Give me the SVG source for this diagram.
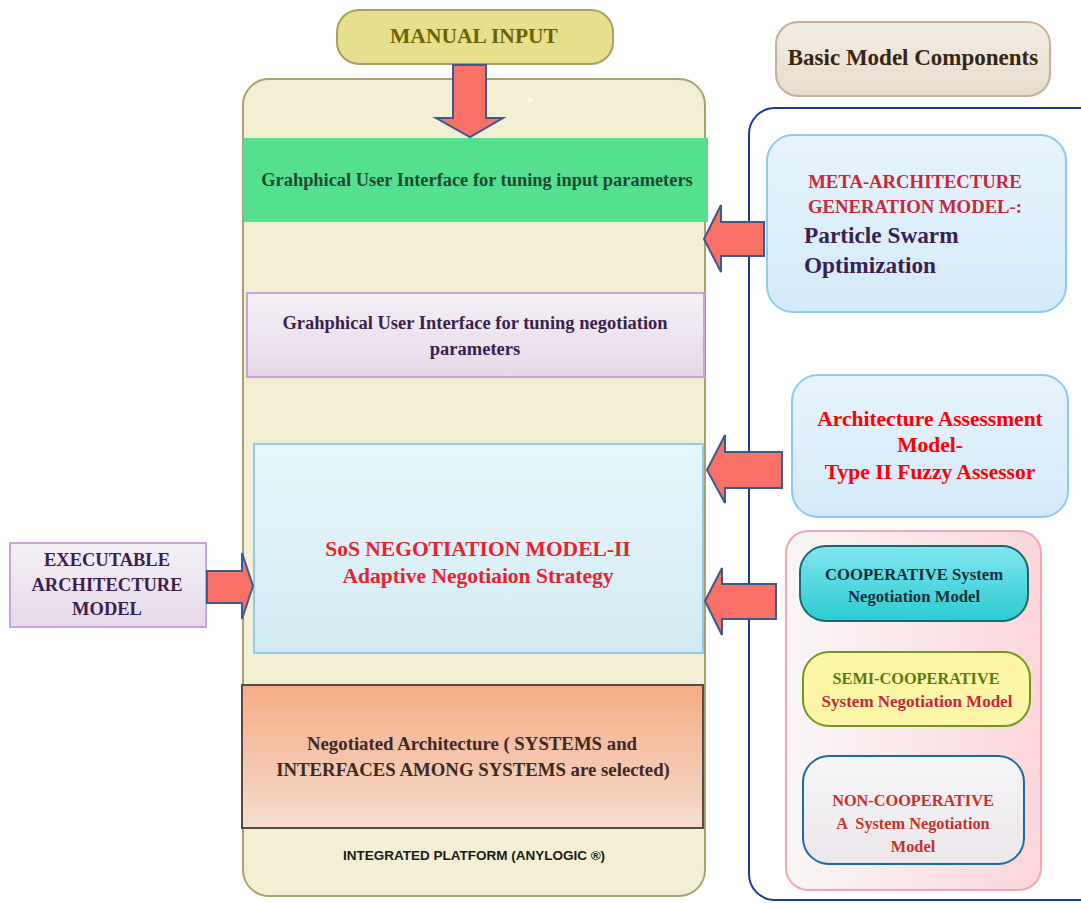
<svg xmlns="http://www.w3.org/2000/svg" width="1081" height="903" viewBox="0 0 1081 903">
<defs>
<style>
.t{font-family:"Liberation Serif","Times New Roman",serif;font-weight:bold;text-anchor:middle}
.l{text-anchor:start}
.s{font-family:"Liberation Sans",Arial,sans-serif;font-weight:bold;text-anchor:middle}
.arr{fill:#f87066;stroke:#3e5a8a;stroke-width:2;stroke-linejoin:miter}
</style>
<linearGradient id="gPurple" x1="0" y1="0" x2="0" y2="1"><stop offset="0" stop-color="#f4f0f6"/><stop offset="1" stop-color="#e6d8e8"/></linearGradient>
<linearGradient id="gBlue" x1="0" y1="0" x2="0" y2="1"><stop offset="0" stop-color="#e7f7fb"/><stop offset="1" stop-color="#d3eaf3"/></linearGradient>
<linearGradient id="gBlue2" x1="0" y1="0" x2="0" y2="1"><stop offset="0" stop-color="#e6f4fb"/><stop offset="1" stop-color="#d4eafa"/></linearGradient>
<linearGradient id="gOrange" x1="0" y1="0" x2="0" y2="1"><stop offset="0" stop-color="#f3ac86"/><stop offset="1" stop-color="#f6dccd"/></linearGradient>
<linearGradient id="gTan" x1="0" y1="0" x2="0" y2="1"><stop offset="0" stop-color="#f2ede4"/><stop offset="1" stop-color="#e7dccd"/></linearGradient>
<linearGradient id="gPink" x1="0" y1="0" x2="1" y2="0"><stop offset="0" stop-color="#faf6f7"/><stop offset="1" stop-color="#fcd6da"/></linearGradient>
<linearGradient id="gCyan" x1="0" y1="0" x2="0" y2="1"><stop offset="0" stop-color="#80e6f0"/><stop offset="1" stop-color="#2ccbcf"/></linearGradient>
<linearGradient id="gGrey" x1="0" y1="0" x2="0" y2="1"><stop offset="0" stop-color="#f6f5f7"/><stop offset="1" stop-color="#ebe6eb"/></linearGradient>
</defs>
<rect width="1081" height="903" fill="#ffffff"/>

<g id="platform">
<rect x="243" y="79" width="462" height="817" rx="26" fill="#f3efd2" stroke="#a8a070" stroke-width="2"/>
<text x="527" y="104" font-family="Liberation Sans, sans-serif" font-size="10" fill="#ffffff" font-weight="bold">&gt;</text>
<text class="s" x="474" y="860" font-size="13.5" fill="#1a1a1a">INTEGRATED PLATFORM (ANYLOGIC ®)</text>
</g>

<g id="manual-input">
<rect x="337" y="10" width="276" height="54" rx="22" fill="#e8df8e" stroke="#a89f60" stroke-width="2"/>
<text class="t" x="474" y="43" font-size="21.5" fill="#6e6200">MANUAL INPUT</text>
</g>

<g id="gui-input">
<rect x="243" y="138" width="465" height="84" fill="#54e08e"/>
<text class="t" x="477" y="186" font-size="18.4" fill="#1d4a2e">Grahphical User Interface for tuning input parameters</text>
</g>

<g id="gui-negotiation">
<rect x="247" y="293" width="457" height="84" fill="url(#gPurple)" stroke="#c9a4d8" stroke-width="2"/>
<text class="t" x="475" y="329" font-size="18.5" fill="#3d1f4d">Grahphical User Interface for tuning negotiation</text>
<text class="t" x="475" y="355" font-size="18.5" fill="#3d1f4d">parameters</text>
</g>

<g id="sos-negotiation">
<rect x="254" y="444" width="449" height="209" fill="url(#gBlue)" stroke="#8ccaf2" stroke-width="2"/>
<text class="t" x="478" y="556" font-size="21.5" fill="#e8222e">SoS NEGOTIATION MODEL-II</text>
<text class="t" x="478" y="583" font-size="21.5" fill="#e8222e">Adaptive Negotiaion Strategy</text>
</g>

<g id="negotiated-architecture">
<rect x="242" y="685" width="461" height="143" fill="url(#gOrange)" stroke="#5a4a40" stroke-width="2"/>
<text class="t" x="472" y="750" font-size="18.8" fill="#3d2a20">Negotiated Architecture ( SYSTEMS and</text>
<text class="t" x="473" y="776" font-size="18.8" fill="#3d2a20">INTERFACES AMONG SYSTEMS are selected)</text>
</g>

<g id="executable-architecture">
<rect x="10" y="543" width="196" height="84" fill="url(#gPurple)" stroke="#c9a4d8" stroke-width="2"/>
<text class="t" x="107" y="566" font-size="18.5" fill="#3d1f4d">EXECUTABLE</text>
<text class="t" x="107" y="591" font-size="18.5" fill="#3d1f4d">ARCHITECTURE</text>
<text class="t" x="107" y="615" font-size="18.5" fill="#3d1f4d">MODEL</text>
</g>

<g id="basic-model-components">
<rect x="776" y="22" width="274" height="74" rx="22" fill="url(#gTan)" stroke="#c8b09a" stroke-width="2"/>
<text class="t" x="913" y="65" font-size="23" fill="#3a2410">Basic Model Components</text>
</g>

<g id="components-container">
<rect x="749" y="108" width="360" height="792" rx="26" fill="none" stroke="#1a3a9a" stroke-width="2"/>
</g>

<g id="meta-architecture">
<rect x="767" y="135" width="299" height="177" rx="26" fill="url(#gBlue2)" stroke="#8ccaf2" stroke-width="2"/>
<text class="t" x="915" y="188" font-size="18.7" fill="#c8283a">META-ARCHITECTURE</text>
<text class="t" x="915" y="213" font-size="18.7" fill="#c8283a">GENERATION MODEL-:</text>
<text class="t l" x="804" y="243" font-size="23.3" fill="#3a1f50">Particle Swarm</text>
<text class="t l" x="804" y="273" font-size="23.3" fill="#3a1f50">Optimization</text>
</g>

<g id="architecture-assessment">
<rect x="792" y="375" width="276" height="142" rx="26" fill="url(#gBlue2)" stroke="#8ccaf2" stroke-width="2"/>
<text class="t" x="930" y="426" font-size="21.5" fill="#ff0000">Architecture Assessment</text>
<text class="t" x="930" y="452" font-size="21.5" fill="#ff0000">Model-</text>
<text class="t" x="930" y="479" font-size="21.5" fill="#ff0000">Type II Fuzzy Assessor</text>
</g>

<g id="negotiation-models">
<rect x="786" y="531" width="255" height="359" rx="22" fill="url(#gPink)" stroke="#f6a7ae" stroke-width="2"/>
</g>

<g id="cooperative">
<rect x="800" y="546" width="228" height="75" rx="26" fill="url(#gCyan)" stroke="#1c6870" stroke-width="2"/>
<text class="t" x="914" y="580" font-size="16.7" fill="#1a2e3a">COOPERATIVE System</text>
<text class="t" x="914" y="602" font-size="16.7" fill="#1a2e3a">Negotiation Model</text>
</g>

<g id="semi-cooperative">
<rect x="803" y="652" width="227" height="74" rx="26" fill="#fdf6a8" stroke="#6e9a1a" stroke-width="2"/>
<text class="t" x="916" y="684" font-size="16.3" fill="#5a7a10">SEMI-COOPERATIVE</text>
<text class="t" x="917" y="707" font-size="17" fill="#c8283a">System Negotiation Model</text>
</g>

<g id="non-cooperative">
<rect x="803" y="756" width="221" height="108" rx="26" fill="url(#gGrey)" stroke="#1e6a9a" stroke-width="2"/>
<text class="t" x="913" y="806" font-size="16.3" fill="#c8302a">NON-COOPERATIVE</text>
<text class="t" x="913" y="829" font-size="16.3" fill="#c8302a" xml:space="preserve">A  System Negotiation</text>
<text class="t" x="913" y="852" font-size="16.3" fill="#c8302a">Model</text>
</g>

<g id="connectors">
<polygon class="arr" points="453,65 486,65 486,118 503,118 470,137 436,118 453,118"/>
<polygon class="arr" points="764,222 764,256 721,256 721,272 704,239 721,205 721,222"/>
<polygon class="arr" points="782,452 782,488 725,488 725,503 707,470 725,435 725,452"/>
<polygon class="arr" points="776,584 776,619 722,619 722,635 705,601 722,568 722,584"/>
<polygon class="arr" points="207,571 242,571 242,553 253,586 242,619 242,603 207,603"/>
</g>
</svg>
